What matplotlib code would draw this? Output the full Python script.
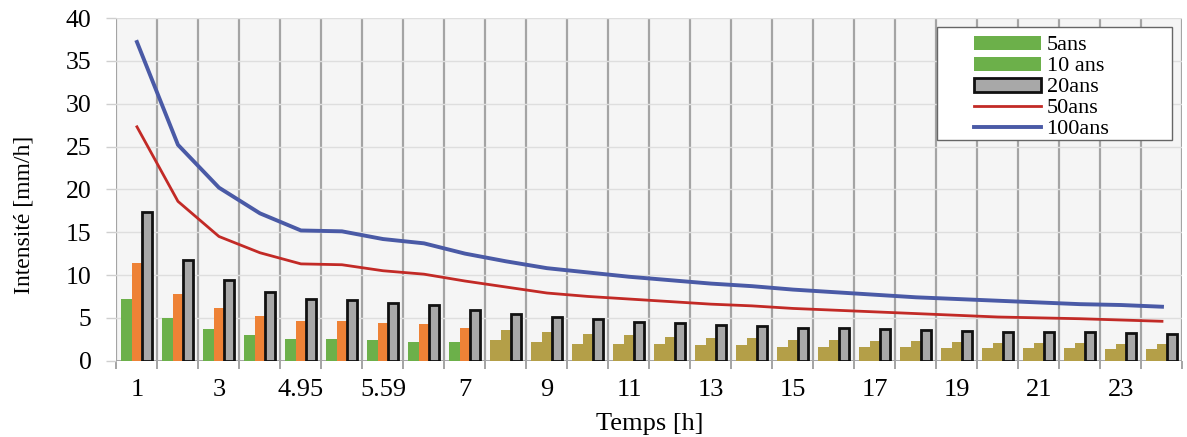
import matplotlib
matplotlib.use("Agg")
from matplotlib import pyplot as plt
from matplotlib.patches import Rectangle, Patch
from matplotlib.lines import Line2D
import numpy as np

# durées (h) - une catégorie par groupe de barres
temps = ["1", "2", "3", "4", "4.95", "5", "5.59", "6", "7", "8", "9", "10",
         "11", "12", "13", "14", "15", "16", "17", "18", "19", "20", "21",
         "22", "23", "24"]

i_5ans = [7.2, 4.95, 3.7, 3.0, 2.5, 2.5, 2.4, 2.2, 2.15, 2.4, 2.2, 2.0,
          2.0, 1.9, 1.8, 1.8, 1.6, 1.65, 1.65, 1.55, 1.5, 1.5, 1.45,
          1.45, 1.4, 1.35]
i_10ans = [11.4, 7.75, 6.1, 5.2, 4.65, 4.65, 4.35, 4.25, 3.85, 3.6, 3.3, 3.1,
           3.0, 2.8, 2.7, 2.6, 2.4, 2.4, 2.3, 2.25, 2.2, 2.1, 2.1,
           2.05, 2.0, 1.95]
i_20ans = [17.3, 11.8, 9.4, 8.05, 7.15, 7.1, 6.7, 6.45, 5.9, 5.45, 5.1, 4.9,
           4.55, 4.4, 4.2, 4.0, 3.85, 3.8, 3.7, 3.55, 3.45, 3.4, 3.35,
           3.3, 3.25, 3.15]
i_50ans = [27.3, 18.6, 14.5, 12.6, 11.3, 11.2, 10.5, 10.1, 9.3, 8.6, 7.9, 7.5,
           7.2, 6.9, 6.6, 6.4, 6.1, 5.9, 5.7, 5.5, 5.3, 5.1, 5.0,
           4.9, 4.75, 4.6]
i_100ans = [37.2, 25.2, 20.2, 17.2, 15.2, 15.1, 14.2, 13.7, 12.5, 11.6, 10.8, 10.3,
            9.8, 9.4, 9.0, 8.7, 8.3, 8.0, 7.7, 7.4, 7.2, 7.0, 6.8,
            6.6, 6.5, 6.3]

legende = ["5ans", "10 ans", "20ans", "50ans", "100ans"]

VERT = "#6cb04a"
ORANGE = "#ee8236"
KAKI = "#b49f48"
GRIS = "#a8a8a8"
ROUGE = "#c22a26"
BLEU = "#4a5aa6"
SERIF = "Liberation Serif"

x = np.arange(len(temps))
kaki_depuis = 9  # à partir de cette barre les couleurs virent au kaki
c5 = [VERT if k < kaki_depuis else KAKI for k in x]
c10 = [ORANGE if k < kaki_depuis else KAKI for k in x]

fig = plt.figure(figsize=(11.87, 4.37), dpi=100)
ax = fig.add_axes([0.0981, 0.1746, 0.8981, 0.7842])
ax.set_facecolor("#f5f5f5")

ax.bar(x - 0.26, i_5ans, 0.27, color=c5, zorder=3)
ax.bar(x, i_10ans, 0.25, color=c10, zorder=3)
ax.bar(x + 0.25, i_20ans, 0.24, color=GRIS, edgecolor="#111111",
       linewidth=2.0, zorder=4)
ax.plot(x, i_50ans, color=ROUGE, lw=2.0, zorder=5)
ax.plot(x, i_100ans, color=BLEU, lw=2.8, zorder=5)

ax.set_xlim(-0.5, len(temps) - 0.5)
ax.set_ylim(0, 40)
ax.set_yticks(range(0, 41, 5))
ax.set_xticks(x[::2])
ax.set_xticklabels(temps[::2])
ax.set_xticks(np.arange(-0.5, len(temps), 1.0), minor=True)

ax.grid(axis="y", color="#dedede", lw=1.0, zorder=0)
ax.grid(axis="x", which="minor", color="#a4a4a4", lw=1.6, zorder=1)
ax.grid(axis="x", which="major", visible=False)
for s in ax.spines.values():
    s.set_visible(False)
ax.axhline(0, color="#a4a4a4", lw=1.4, zorder=2)

ax.tick_params(axis="x", which="major", length=0, pad=13, labelsize=19)
ax.tick_params(axis="x", which="minor", length=6, width=1.4, color="#a4a4a4")
ax.tick_params(axis="y", length=7, width=1.0, color="#cfcfcf", pad=11,
               labelsize=18.5)
for t in ax.get_xticklabels() + ax.get_yticklabels():
    t.set_fontfamily(SERIF)

ax.set_xlabel("Temps [h]", fontsize=19, fontfamily=SERIF, labelpad=9)
ax.set_ylabel("Intensité [mm/h]", fontsize=17, fontfamily=SERIF)
ax.yaxis.set_label_coords(-0.077, 0.425)

# cadre de la légende
ax.add_patch(Rectangle((0.77, 0.644), 0.22, 0.33, transform=ax.transAxes,
                       facecolor="white", edgecolor="#666666", lw=1.0,
                       zorder=8))
poignees = [Patch(facecolor=VERT), Patch(facecolor=VERT),
            Patch(facecolor=GRIS, edgecolor="#111111", linewidth=2.0),
            Line2D([], [], color=ROUGE, lw=2.0),
            Line2D([], [], color=BLEU, lw=2.8)]
leg = ax.legend(poignees, legende, loc="upper left",
                bbox_to_anchor=(0.786, 1.007), frameon=False,
                prop={"family": SERIF, "size": 16}, handlelength=3.0,
                handleheight=0.6, handletextpad=0.25, labelspacing=0.05)
leg.set_zorder(9)

fig.savefig("out.png", dpi=100)
